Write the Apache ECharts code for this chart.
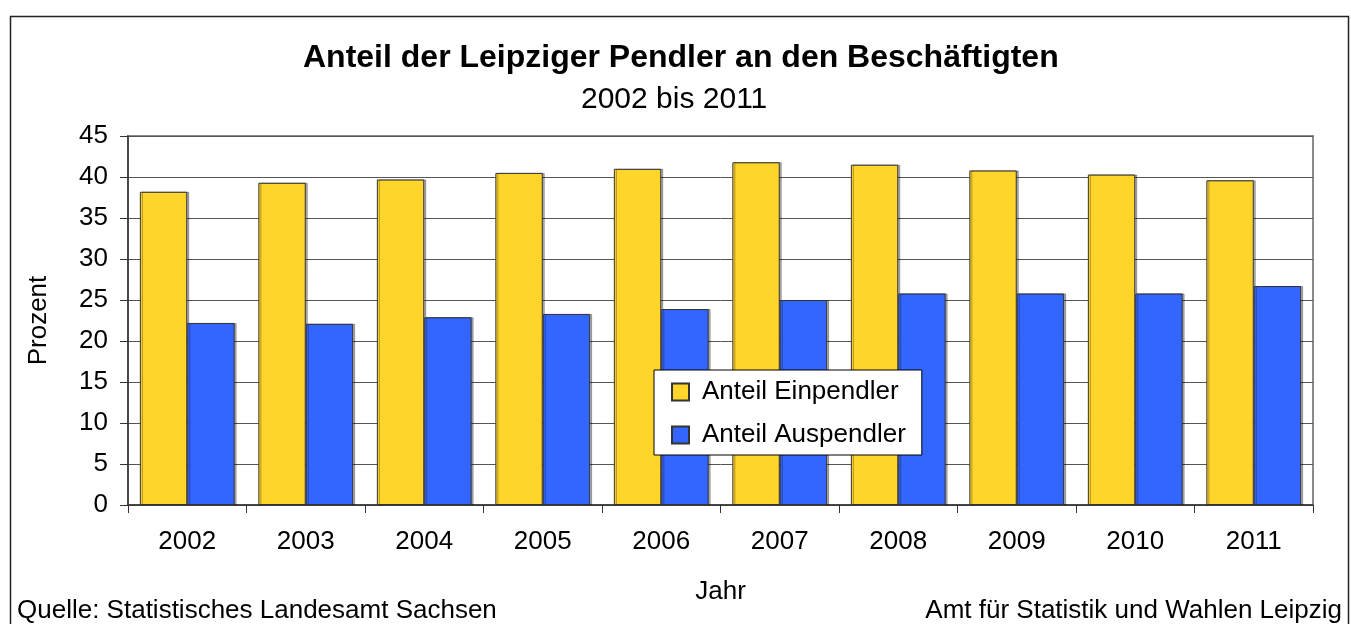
<!DOCTYPE html>
<html>
<head>
<meta charset="utf-8">
<script src="https://cdn.jsdelivr.net/npm/echarts@6/dist/echarts.min.js"></script>
<style>
  html, body { margin: 0; padding: 0; background: #fff; }
  #chart { width: 1351px; height: 624px; }
</style>
</head>
<body>
<div id="chart"></div>
<script>
const years = ["2002", "2003", "2004", "2005", "2006", "2007", "2008", "2009", "2010", "2011"];
const einpendler = [38.2, 39.3, 39.7, 40.5, 41.0, 41.8, 41.5, 40.8, 40.3, 39.6];
const auspendler = [22.2, 22.1, 22.9, 23.3, 23.9, 25.0, 25.8, 25.8, 25.8, 26.7];

const font = "Liberation Sans, Arial, sans-serif";

const chart = echarts.init(document.getElementById("chart"));
chart.setOption({
  animation: false,
  textStyle: { fontFamily: font, color: "#000" },
  title: [
    {
      text: "Anteil der Leipziger Pendler an den Beschäftigten",
      left: 303,
      top: 42,
      padding: 0,
      textStyle: { fontSize: 32, fontWeight: "bold", color: "#000", fontFamily: font },
    },
    {
      text: "2002 bis 2011",
      left: 581,
      top: 85,
      padding: 0,
      textStyle: { fontSize: 30, fontWeight: "normal", color: "#000", fontFamily: font },
    },
  ],
  graphic: [
    {
      type: "rect",
      shape: { x: 10.5, y: 16.5, width: 1338, height: 640 },
      style: { fill: "none", stroke: "#222", lineWidth: 1.5 },
      silent: true,
    },
    {
      type: "text",
      left: 17,
      top: 598,
      style: { text: "Quelle: Statistisches Landesamt Sachsen", font: "26px " + font, fill: "#000" },
    },
    {
      type: "text",
      right: 9,
      top: 598,
      style: { text: "Amt für Statistik und Wahlen Leipzig", font: "26px " + font, fill: "#000" },
    },
  ],
  legend: {
    orient: "vertical",
    left: 654,
    top: 370,
    padding: [9, 16, 7, 17],
    itemWidth: 17,
    itemHeight: 17,
    itemGap: 17,
    icon: "rect",
    backgroundColor: "#fff",
    borderColor: "#000",
    borderWidth: 1,
    textStyle: { fontSize: 26, color: "#000", fontFamily: font, padding: [0, 0, 0, 8] },
    data: ["Anteil Einpendler", "Anteil Auspendler"],
  },
  grid: {
    left: 128,
    top: 136,
    right: 38,
    bottom: 119,
    show: true,
    borderColor: "#8a8a8a",
    borderWidth: 2,
    backgroundColor: "#fff",
  },
  xAxis: {
    type: "category",
    data: years,
    name: "Jahr",
    nameLocation: "middle",
    nameGap: 74,
    nameTextStyle: { fontSize: 26, color: "#000" },
    axisLine: { lineStyle: { color: "#333", width: 1.5 } },
    axisTick: { show: true, length: 8, lineStyle: { color: "#333" } },
    axisLabel: { fontSize: 26, color: "#000", margin: 24 },
    splitLine: { show: false },
  },
  yAxis: {
    type: "value",
    min: 0,
    max: 45,
    interval: 5,
    name: "Prozent",
    nameLocation: "middle",
    nameRotate: 90,
    nameGap: 76,
    nameTextStyle: { fontSize: 26, color: "#000" },
    axisLine: { show: true, lineStyle: { color: "#333", width: 1.5 } },
    axisTick: { show: true, length: 8, lineStyle: { color: "#333" } },
    axisLabel: { fontSize: 26, color: "#000", margin: 20 },
    splitLine: { show: true, lineStyle: { color: "#555", width: 1 } },
  },
  series: [
    {
      name: "Anteil Einpendler",
      type: "bar",
      data: einpendler,
      barGap: "0%",
      barCategoryGap: "20%",
      itemStyle: {
        color: "#FFD52B",
        borderColor: "#333",
        borderWidth: 1,
        shadowColor: "rgba(0,0,0,0.3)",
        shadowOffsetX: 2,
        shadowOffsetY: 0,
      },
    },
    {
      name: "Anteil Auspendler",
      type: "bar",
      data: auspendler,
      barGap: "0%",
      barCategoryGap: "20%",
      itemStyle: {
        color: "#3366FF",
        borderColor: "#333",
        borderWidth: 1,
        shadowColor: "rgba(0,0,0,0.3)",
        shadowOffsetX: 2,
        shadowOffsetY: 0,
      },
    },
  ],
});
</script>
</body>
</html>
